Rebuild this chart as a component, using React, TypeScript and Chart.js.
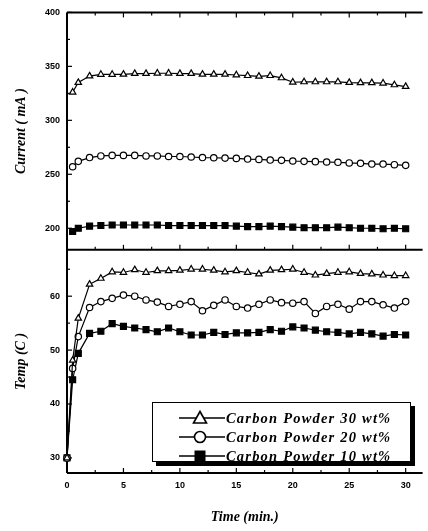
import React, { useEffect, useRef } from 'react';
import { Chart, registerables } from 'chart.js';

Chart.register(...registerables);

// ---- data ----
const currentTimes = [0.5, 1, 2, 3, 4, 5, 6, 7, 8, 9, 10, 11, 12, 13, 14, 15, 16, 17, 18, 19, 20, 21, 22, 23, 24, 25, 26, 27, 28, 29, 30];
const tempTimes = [0, 0.5, 1, 2, 3, 4, 5, 6, 7, 8, 9, 10, 11, 12, 13, 14, 15, 16, 17, 18, 19, 20, 21, 22, 23, 24, 25, 26, 27, 28, 29, 30];

const current30 = [326, 335, 341, 342.5, 342.5, 342.6, 343.3, 343.3, 343.6, 343.6, 343.3, 343.3, 342.6, 342.6, 342.6, 342.0, 341.4, 340.8, 341.4, 339.3, 335.3, 335.6, 335.6, 335.6, 335.6, 335.0, 334.7, 334.7, 334.4, 332.8, 331.3];
const current20 = [257, 262, 265.5, 267, 267.5, 267.5, 267.5, 267, 267, 266.5, 266.5, 266, 265.5, 265.3, 265, 264.7, 264.1, 263.8, 263.2, 262.9, 262.3, 262, 261.7, 261.4, 261.1, 260.5, 260.2, 259.5, 259.5, 258.9, 258.3];
const current10 = [197, 200, 202, 202.5, 203, 203, 203, 203, 203, 202.5, 202.5, 202.5, 202.5, 202.5, 202.5, 202, 201.5, 201.5, 202, 201.5, 201, 200.5, 200.5, 200.5, 201, 200.5, 200, 200, 199.5, 200, 199.5];

const temp30 = [30, 48.1, 55.9, 62.2, 63.3, 64.5, 64.4, 64.9, 64.4, 64.7, 64.7, 64.8, 65.0, 65.0, 64.8, 64.5, 64.7, 64.4, 64.1, 64.8, 64.9, 65.0, 64.4, 63.9, 64.2, 64.4, 64.5, 64.2, 64.1, 63.9, 63.8, 63.8];
const temp20 = [30, 46.6, 52.5, 57.9, 59.0, 59.6, 60.2, 60.0, 59.3, 58.9, 58.1, 58.5, 59.0, 57.3, 58.3, 59.3, 58.1, 57.8, 58.5, 59.3, 58.8, 58.7, 59.0, 56.8, 58.1, 58.5, 57.6, 59.0, 59.0, 58.4, 57.8, 59.0];
const temp10 = [30, 44.5, 49.4, 53.1, 53.5, 54.9, 54.4, 54.1, 53.8, 53.4, 54.1, 53.4, 52.8, 52.8, 53.3, 52.9, 53.2, 53.2, 53.3, 53.8, 53.5, 54.3, 54.1, 53.7, 53.4, 53.3, 53.0, 53.3, 53.0, 52.6, 52.9, 52.8];

const seriesLabels = ['Carbon Powder 30 wt%', 'Carbon Powder 20 wt%', 'Carbon Powder 10 wt%'];
const xTicks = [0, 5, 10, 15, 20, 25, 30];
const currentTicks = [200, 250, 300, 350, 400];
const tempTicks = [30, 40, 50, 60];

const toXY = (xs: number[], ys: number[]) => ys.map((y, i) => ({ x: xs[i], y }));

const framePlugin = {
  id: 'frame',
  beforeDatasetsDraw(chart: any) {
    const { ctx, chartArea } = chart;
    const x = chart.scales.x;
    const yC = chart.scales.yC;
    const yT = chart.scales.yT;
    const L = chartArea.left;
    const R = chartArea.right;
    const seg = (x1: number, y1: number, x2: number, y2: number) => {
      ctx.beginPath();
      ctx.moveTo(x1, y1);
      ctx.lineTo(x2, y2);
      ctx.stroke();
    };
    ctx.save();
    ctx.strokeStyle = '#000';
    ctx.lineWidth = 2;
    seg(L, yC.top, L, yT.bottom);
    seg(L, yC.top, R, yC.top);
    seg(L, yC.bottom, R, yC.bottom);
    seg(L, yT.bottom, R, yT.bottom);
    ctx.lineWidth = 1.2;
    const yScales: [any, number][] = [[yC, 25], [yT, 5]];
    for (const [s, step] of yScales) {
      for (let v = Math.ceil(s.min / step) * step; v <= s.max; v += step) {
        const py = s.getPixelForValue(v);
        const major = v % (step * 2) === 0;
        seg(L, py, L + (major ? 5 : 3), py);
      }
    }
    for (let v = 0; v <= x.max; v += 2.5) {
      const px = x.getPixelForValue(v);
      const len = v % 5 === 0 ? 5 : 3;
      seg(px, yT.bottom, px, yT.bottom - len);
      seg(px, yC.bottom, px, yC.bottom - len);
      seg(px, yC.top, px, yC.top + len);
    }
    ctx.restore();
  },
};

const tickFont = { family: '"Liberation Sans", Arial, sans-serif', size: 9, weight: 'bold' as const };
const titleFont = { family: '"Liberation Serif", "Times New Roman", serif', size: 14, weight: 'bold' as const, style: 'italic' as const };

function makeDs(label: string, data: any[], style: string, yAxisID: string, filled: boolean, radius: number) {
  return {
    label,
    data,
    yAxisID,
    borderColor: '#000',
    borderWidth: 1.2,
    pointStyle: style,
    pointRadius: radius,
    pointBorderWidth: 1.2,
    pointBackgroundColor: filled ? '#000' : '#fff',
    pointBorderColor: '#000',
    fill: false,
    tension: 0,
    clip: false,
  };
}

function LegendMarker({ kind }: { kind: string }) {
  return (
    <svg width={46} height={18} style={{ position: 'absolute', left: 0, top: 0 }}>
      <line x1={0} y1={9} x2={46} y2={9} stroke="#000" strokeWidth={1.3} />
      {kind === 'tri' && <polygon points="21,2.5 27.5,14 14.5,14" fill="#fff" stroke="#000" strokeWidth={1.6} />}
      {kind === 'circ' && <circle cx={21} cy={9} r={5.5} fill="#fff" stroke="#000" strokeWidth={1.6} />}
      {kind === 'sq' && <rect x={15.5} y={3.5} width={11} height={11} fill="#000" />}
    </svg>
  );
}

export default function App() {
  const canvasRef = useRef<HTMLCanvasElement | null>(null);

  useEffect(() => {
    const canvas = canvasRef.current;
    if (!canvas) return;
    const chart = new Chart(canvas, {
      type: 'line',
      data: {
        datasets: [
          makeDs(seriesLabels[0], toXY(currentTimes, current30), 'triangle', 'yC', false, 3.7),
          makeDs(seriesLabels[1], toXY(currentTimes, current20), 'circle', 'yC', false, 3.2),
          makeDs(seriesLabels[2], toXY(currentTimes, current10), 'rect', 'yC', true, 4.2),
          makeDs(seriesLabels[0], toXY(tempTimes, temp30), 'triangle', 'yT', false, 3.7),
          makeDs(seriesLabels[1], toXY(tempTimes, temp20), 'circle', 'yT', false, 3.2),
          makeDs(seriesLabels[2], toXY(tempTimes, temp10), 'rect', 'yT', true, 4.2),
        ] as any,
      },
      options: {
        animation: false,
        responsive: false,
        devicePixelRatio: 1,
        layout: { padding: { top: 8, right: 0, left: 0, bottom: 0 } },
        plugins: { legend: { display: false }, tooltip: { enabled: false } },
        scales: {
          x: {
            type: 'linear',
            min: 0,
            max: 31.5,
            grid: { display: false, drawTicks: false },
            border: { display: false },
            afterBuildTicks: (s: any) => { s.ticks = xTicks.map((value) => ({ value })); },
            afterFit: (s: any) => { s.height = 58; },
            ticks: { font: tickFont, color: '#000', padding: 7, maxRotation: 0 },
            title: { display: true, text: 'Time (min.)', font: titleFont, color: '#000', padding: { top: 0, bottom: 5 } },
          },
          yC: {
            type: 'linear',
            position: 'left',
            stack: 'panels',
            stackWeight: 239.7,
            weight: 2,
            min: 180,
            max: 400,
            grid: { display: false, drawTicks: false },
            border: { display: false },
            afterBuildTicks: (s: any) => { s.ticks = currentTicks.map((value) => ({ value })); },
            afterFit: (s: any) => { s.width = 67; },
            ticks: { font: tickFont, color: '#000', padding: 7 },
            title: { display: true, text: 'Current ( mA )', font: titleFont, color: '#000', padding: { top: 13, bottom: 0 } },
          },
          yT: {
            type: 'linear',
            position: 'left',
            stack: 'panels',
            stackWeight: 225.3,
            weight: 1,
            min: 27.2,
            max: 68.6,
            grid: { display: false, drawTicks: false },
            border: { display: false },
            afterBuildTicks: (s: any) => { s.ticks = tempTicks.map((value) => ({ value })); },
            afterFit: (s: any) => { s.width = 67; },
            ticks: { font: tickFont, color: '#000', padding: 7 },
            title: { display: true, text: 'Temp (C )', font: titleFont, color: '#000', padding: { top: 13, bottom: 0 } },
          },
        },
      } as any,
      plugins: [framePlugin],
    });
    return () => chart.destroy();
  }, []);

  const legendRows = [
    { label: seriesLabels[0], kind: 'tri', top: 6 },
    { label: seriesLabels[1], kind: 'circ', top: 25 },
    { label: seriesLabels[2], kind: 'sq', top: 44 },
  ];

  return (
    <div style={{ position: 'fixed', left: 0, top: 0, width: 428, height: 531, background: '#fff', overflow: 'hidden' }}>
      <canvas ref={canvasRef} width={428} height={531} style={{ display: 'block', width: 428, height: 531 }} />
      <div
        style={{
          position: 'absolute',
          left: 152,
          top: 402,
          width: 259,
          height: 60,
          boxSizing: 'border-box',
          border: '1.5px solid #000',
          boxShadow: '4px 4px 0 #000',
          background: '#fff',
        }}
      >
        {legendRows.map((r) => (
          <div key={r.label} style={{ position: 'absolute', left: 26, top: r.top, height: 18, width: 230 }}>
            <LegendMarker kind={r.kind} />
            <span
              style={{
                position: 'absolute',
                left: 47,
                top: 0,
                lineHeight: '18px',
                whiteSpace: 'nowrap',
                fontFamily: '"Liberation Serif", "Times New Roman", serif',
                fontWeight: 'bold',
                fontStyle: 'italic',
                fontSize: 14.5,
                letterSpacing: 1.2,
                color: '#000',
              }}
            >
              {r.label}
            </span>
          </div>
        ))}
      </div>
    </div>
  );
}
